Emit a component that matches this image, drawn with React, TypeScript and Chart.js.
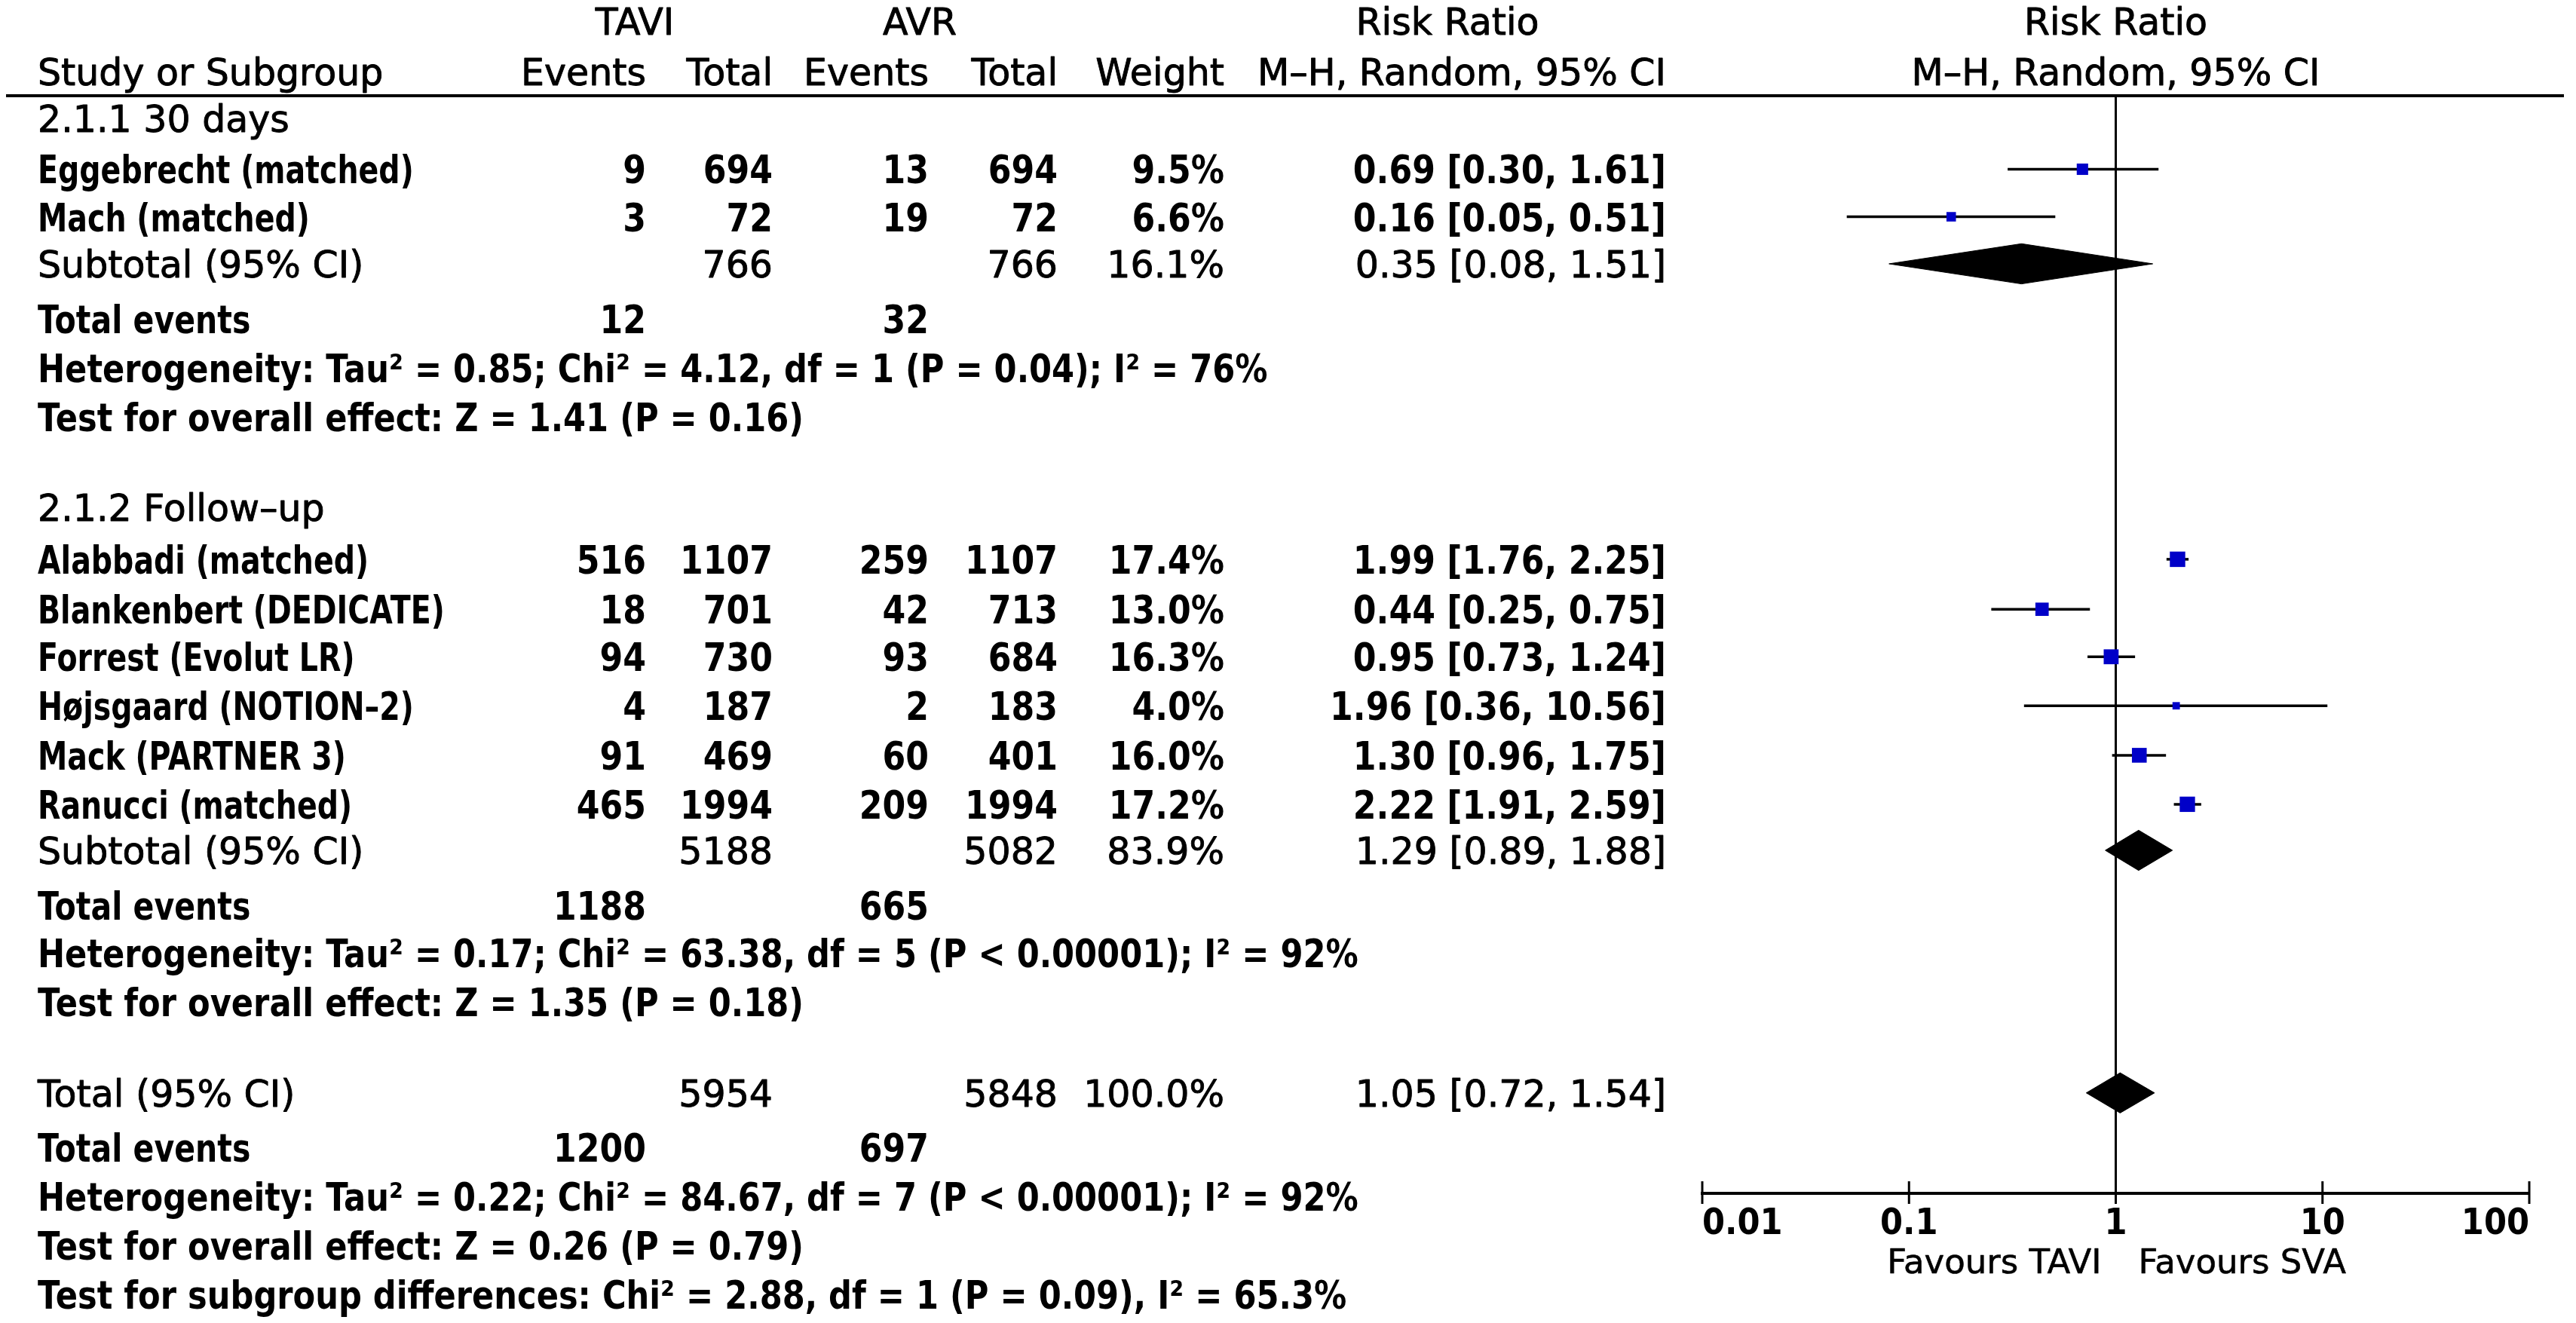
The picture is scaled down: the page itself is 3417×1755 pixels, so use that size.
import React, { useEffect, useRef } from "react";
import { Chart, registerables } from "chart.js";

Chart.register(...registerables);

// ---------------- DATA ----------------
const studyNames = [
  "Eggebrecht (matched)",
  "Mach (matched)",
  "Alabbadi (matched)",
  "Blankenbert (DEDICATE)",
  "Forrest (Evolut LR)",
  "Højsgaard (NOTION–2)",
  "Mack (PARTNER 3)",
  "Ranucci (matched)",
];
const taviEvents = [9, 3, 516, 18, 94, 4, 91, 465];
const taviTotal = [694, 72, 1107, 701, 730, 187, 469, 1994];
const avrEvents = [13, 19, 259, 42, 93, 2, 60, 209];
const avrTotal = [694, 72, 1107, 713, 684, 183, 401, 1994];
const weights = [9.5, 6.6, 17.4, 13.0, 16.3, 4.0, 16.0, 17.2];
const rr = [0.69, 0.16, 1.99, 0.44, 0.95, 1.96, 1.3, 2.22];
const rrLow = [0.3, 0.05, 1.76, 0.25, 0.73, 0.36, 0.96, 1.91];
const rrHigh = [1.61, 0.51, 2.25, 0.75, 1.24, 10.56, 1.75, 2.59];

const groupTitles = ["2.1.1 30 days", "2.1.2 Follow–up"];

const pooledLabels = ["Subtotal (95% CI)", "Subtotal (95% CI)", "Total (95% CI)"];
const pooledTaviTotal = [766, 5188, 5954];
const pooledAvrTotal = [766, 5082, 5848];
const pooledWeight = [16.1, 83.9, 100.0];
const pooledRR = [0.35, 1.29, 1.05];
const pooledLow = [0.08, 0.89, 0.72];
const pooledHigh = [1.51, 1.88, 1.54];

const totalEventsTavi = [12, 1188, 1200];
const totalEventsAvr = [32, 665, 697];

const heterogeneityTexts = [
  "Heterogeneity: Tau² = 0.85; Chi² = 4.12, df = 1 (P = 0.04); I² = 76%",
  "Heterogeneity: Tau² = 0.17; Chi² = 63.38, df = 5 (P < 0.00001); I² = 92%",
  "Heterogeneity: Tau² = 0.22; Chi² = 84.67, df = 7 (P < 0.00001); I² = 92%",
];
const overallEffectTexts = [
  "Test for overall effect: Z = 1.41 (P = 0.16)",
  "Test for overall effect: Z = 1.35 (P = 0.18)",
  "Test for overall effect: Z = 0.26 (P = 0.79)",
];
const subgroupText =
  "Test for subgroup differences: Chi² = 2.88, df = 1 (P = 0.09), I² = 65.3%";

const tickValues = [0.01, 0.1, 1, 10, 100];
const tickLabels = ["0.01", "0.1", "1", "10", "100"];
const favoursLeft = "Favours TAVI";
const favoursRight = "Favours SVA";

// ---------------- LAYOUT (row positions in row units) ----------------
const studyRowY = [1.5, 2.47, 9.46, 10.48, 11.45, 12.45, 13.46, 14.46];
const groupTitleY = [0.46, 8.4];
const pooledY = [3.43, 15.4, 20.35];
const totalEventsY = [4.55, 16.52, 21.46];
const hetY = [5.55, 17.49, 22.46];
const overallY = [6.55, 18.49, 23.46];
const subgroupY = 24.46;
const header1Y = -1.52;
const header2Y = -0.49;
const AXIS_Y = 22.4;
const DIAMOND_H = 0.41;

const W = 3417;
const H = 1755;

// column right edges
const COL_TAVI_EV = 857;
const COL_TAVI_TOT = 1025;
const COL_AVR_EV = 1232;
const COL_AVR_TOT = 1403;
const COL_WEIGHT = 1624;
const COL_RR = 2210;
const COL_LEFT = 50;

const FAMILY = '"DejaVu Sans"';
type Style = { font: string; sx: number; cap: number; stroke?: number };
const REG: Style = { font: `49px ${FAMILY}`, sx: 1, cap: 49 * 0.729, stroke: 0.9 };
const BOLD: Style = { font: `bold 52px ${FAMILY}`, sx: 0.76, cap: 52 * 0.729 };
const BOLDEV: Style = { font: `bold 52px ${FAMILY}`, sx: 0.79, cap: 52 * 0.729 };
const STAT: Style = { font: `bold 52px ${FAMILY}`, sx: 0.83, cap: 52 * 0.729 };
const BOLDNUM: Style = { font: `bold 52px ${FAMILY}`, sx: 0.85, cap: 52 * 0.729 };
const TICK: Style = { font: `bold 48px ${FAMILY}`, sx: 0.9, cap: 48 * 0.729 };
const SMALL: Style = { font: `45px ${FAMILY}`, sx: 1, cap: 45 * 0.729, stroke: 0.6 };

function drawText(
  ctx: CanvasRenderingContext2D,
  text: string,
  x: number,
  yc: number,
  align: "left" | "right" | "center",
  st: Style
) {
  ctx.save();
  ctx.font = st.font;
  ctx.fillStyle = "#000";
  ctx.textBaseline = "alphabetic";
  ctx.textAlign = "left";
  const w = ctx.measureText(text).width * st.sx;
  const left = align === "left" ? x : align === "right" ? x - w : x - w / 2;
  ctx.translate(left, yc + st.cap / 2);
  ctx.scale(st.sx, 1);
  ctx.fillText(text, 0, 0);
  if (st.stroke) {
    ctx.strokeStyle = "#000";
    ctx.lineWidth = st.stroke;
    ctx.lineJoin = "round";
    ctx.strokeText(text, 0, 0);
  }
  ctx.restore();
}

const fmtRR = (v: number, lo: number, hi: number) =>
  `${v.toFixed(2)} [${lo.toFixed(2)}, ${hi.toFixed(2)}]`;

const tablePlugin = {
  id: "forestTable",
  beforeDraw(chart: any) {
    const ctx = chart.ctx as CanvasRenderingContext2D;
    ctx.save();
    ctx.fillStyle = "#fff";
    ctx.fillRect(0, 0, chart.width, chart.height);
    ctx.restore();
  },
  afterDraw(chart: any) {
    const ctx = chart.ctx as CanvasRenderingContext2D;
    const ys = chart.scales.y;
    const xs = chart.scales.x;
    const Y = (v: number) => ys.getPixelForValue(v);
    const X = (v: number) => xs.getPixelForValue(v);
    const x1 = X(1);

    // headers
    drawText(ctx, "TAVI", 842, Y(header1Y), "center", REG);
    drawText(ctx, "AVR", 1220, Y(header1Y), "center", REG);
    drawText(ctx, "Risk Ratio", 1920, Y(header1Y), "center", REG);
    drawText(ctx, "Risk Ratio", x1, Y(header1Y), "center", REG);
    drawText(ctx, "Study or Subgroup", COL_LEFT, Y(header2Y), "left", REG);
    drawText(ctx, "Events", COL_TAVI_EV, Y(header2Y), "right", REG);
    drawText(ctx, "Total", COL_TAVI_TOT, Y(header2Y), "right", REG);
    drawText(ctx, "Events", COL_AVR_EV, Y(header2Y), "right", REG);
    drawText(ctx, "Total", COL_AVR_TOT, Y(header2Y), "right", REG);
    drawText(ctx, "Weight", COL_WEIGHT, Y(header2Y), "right", REG);
    drawText(ctx, "M–H, Random, 95% CI", COL_RR, Y(header2Y), "right", REG);
    drawText(ctx, "M–H, Random, 95% CI", x1, Y(header2Y), "center", REG);

    // header rule
    ctx.save();
    ctx.strokeStyle = "#000";
    ctx.lineWidth = 4;
    ctx.beginPath();
    ctx.moveTo(8, Y(0));
    ctx.lineTo(3401, Y(0));
    ctx.stroke();
    ctx.restore();

    // group titles
    groupTitles.forEach((t, i) => drawText(ctx, t, COL_LEFT, Y(groupTitleY[i]), "left", REG));

    // studies
    studyNames.forEach((n, i) => {
      const y = Y(studyRowY[i]);
      drawText(ctx, n, COL_LEFT, y, "left", BOLD);
      drawText(ctx, String(taviEvents[i]), COL_TAVI_EV, y, "right", BOLDNUM);
      drawText(ctx, String(taviTotal[i]), COL_TAVI_TOT, y, "right", BOLDNUM);
      drawText(ctx, String(avrEvents[i]), COL_AVR_EV, y, "right", BOLDNUM);
      drawText(ctx, String(avrTotal[i]), COL_AVR_TOT, y, "right", BOLDNUM);
      drawText(ctx, `${weights[i].toFixed(1)}%`, COL_WEIGHT, y, "right", BOLDNUM);
      drawText(ctx, fmtRR(rr[i], rrLow[i], rrHigh[i]), COL_RR, y, "right", BOLDNUM);
    });

    // pooled rows
    pooledLabels.forEach((l, i) => {
      const y = Y(pooledY[i]);
      drawText(ctx, l, COL_LEFT, y, "left", REG);
      drawText(ctx, String(pooledTaviTotal[i]), COL_TAVI_TOT, y, "right", REG);
      drawText(ctx, String(pooledAvrTotal[i]), COL_AVR_TOT, y, "right", REG);
      drawText(ctx, `${pooledWeight[i].toFixed(1)}%`, COL_WEIGHT, y, "right", REG);
      drawText(ctx, fmtRR(pooledRR[i], pooledLow[i], pooledHigh[i]), COL_RR, y, "right", REG);
    });

    // total events, heterogeneity, overall effect
    totalEventsTavi.forEach((v, i) => {
      const y = Y(totalEventsY[i]);
      drawText(ctx, "Total events", COL_LEFT, y, "left", BOLDEV);
      drawText(ctx, String(v), COL_TAVI_EV, y, "right", BOLDNUM);
      drawText(ctx, String(totalEventsAvr[i]), COL_AVR_EV, y, "right", BOLDNUM);
    });
    heterogeneityTexts.forEach((t, i) => drawText(ctx, t, COL_LEFT, Y(hetY[i]), "left", STAT));
    overallEffectTexts.forEach((t, i) => drawText(ctx, t, COL_LEFT, Y(overallY[i]), "left", STAT));
    drawText(ctx, subgroupText, COL_LEFT, Y(subgroupY), "left", STAT);

    // axis ticks and labels
    const axisPx = Y(AXIS_Y);
    ctx.save();
    ctx.strokeStyle = "#000";
    ctx.lineWidth = 3;
    tickValues.forEach((v) => {
      const x = X(v);
      ctx.beginPath();
      ctx.moveTo(x, axisPx - 16);
      ctx.lineTo(x, axisPx + 14);
      ctx.stroke();
    });
    ctx.restore();
    tickValues.forEach((v, i) => {
      const align = i === 0 ? "left" : i === tickValues.length - 1 ? "right" : "center";
      drawText(ctx, tickLabels[i], X(v), axisPx + 37, align, TICK);
    });
    drawText(ctx, favoursLeft, x1 - 19, axisPx + 90, "right", SMALL);
    drawText(ctx, favoursRight, x1 + 30, axisPx + 90, "left", SMALL);
  },
};

export default function App() {
  const ref = useRef<HTMLCanvasElement>(null);

  useEffect(() => {
    document.body.style.margin = "0";
    const canvas = ref.current!;
    const datasets: any[] = [];

    // line of no effect
    datasets.push({
      type: "line",
      label: "No effect",
      data: [
        { x: 1, y: 0 },
        { x: 1, y: AXIS_Y },
      ],
      borderColor: "#000",
      borderWidth: 3,
      pointRadius: 0,
      fill: false,
      order: 5,
    });

    // confidence intervals
    studyNames.forEach((n, i) => {
      datasets.push({
        type: "line",
        label: `${n} CI`,
        data: [
          { x: rrLow[i], y: studyRowY[i] },
          { x: rrHigh[i], y: studyRowY[i] },
        ],
        borderColor: "#000",
        borderWidth: 3.5,
        pointRadius: 0,
        fill: false,
        order: 3,
      });
    });

    // study estimates (squares sized by weight)
    datasets.push({
      type: "scatter",
      label: "Risk ratio",
      data: rr.map((v, i) => ({ x: v, y: studyRowY[i] })),
      pointStyle: "rect",
      pointRadius: weights.map((w) => (Math.sqrt(w) * 4.9) / Math.SQRT2),
      pointBackgroundColor: "#0000c8",
      pointBorderWidth: 0,
      pointBorderColor: "#0000c8",
      showLine: false,
      order: 1,
    });

    // pooled diamonds
    pooledRR.forEach((v, i) => {
      const y = pooledY[i];
      datasets.push({
        type: "line",
        label: pooledLabels[i],
        data: [
          { x: pooledLow[i], y },
          { x: v, y: y - DIAMOND_H },
          { x: pooledHigh[i], y },
          { x: v, y: y + DIAMOND_H },
          { x: pooledLow[i], y },
        ],
        borderColor: "#000",
        backgroundColor: "#000",
        borderWidth: 1,
        pointRadius: 0,
        tension: 0,
        fill: "shape",
        order: 2,
      });
    });

    const chart = new Chart(canvas, {
      type: "scatter",
      data: { datasets },
      options: {
        animation: false,
        responsive: false,
        devicePixelRatio: 1,
        layout: { padding: { left: 2258, right: 62, top: 127, bottom: 162 } },
        plugins: { legend: { display: false }, tooltip: { enabled: false } },
        scales: {
          x: {
            type: "logarithmic",
            min: 0.01,
            max: 100,
            position: "bottom",
            grid: { display: false, drawOnChartArea: false, drawTicks: false },
            border: { display: true, color: "#000", width: 4 },
            ticks: { display: false },
            afterFit: (s: any) => {
              s.height = 10;
            },
          },
          y: {
            type: "linear",
            min: 0,
            max: AXIS_Y,
            reverse: true,
            display: false,
          },
        },
      } as any,
      plugins: [tablePlugin],
    });

    return () => chart.destroy();
  }, []);

  return <canvas ref={ref} width={W} height={H} style={{ display: "block" }} />;
}
